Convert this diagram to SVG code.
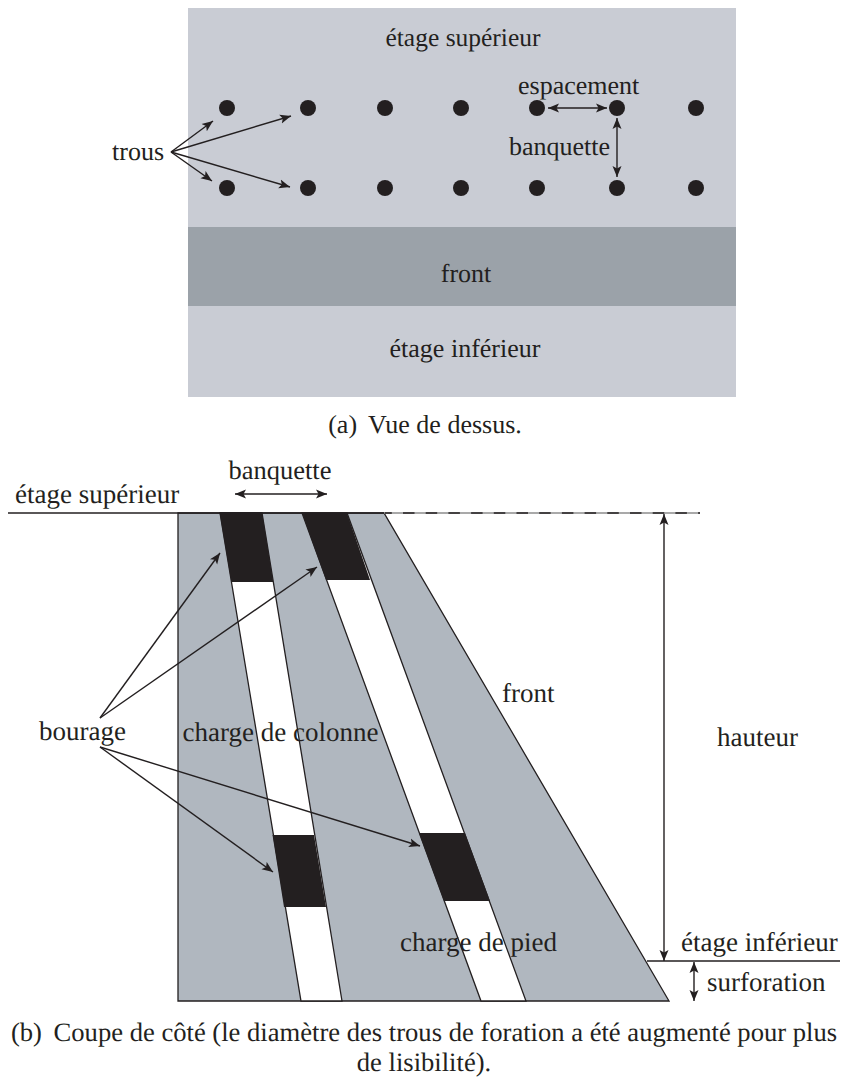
<svg xmlns="http://www.w3.org/2000/svg" width="841" height="1077" viewBox="0 0 841 1077">
<style>
text{font-family:"Liberation Serif","Times New Roman",serif;font-size:27px;fill:#231f20;text-rendering:geometricPrecision}
.t{font-size:26px}
.s{font-size:25.500px}
.c{font-size:26.600px}
.m{text-anchor:middle}
.dot{fill:#231f20}
.hole{fill:#fff;stroke:#231f20;stroke-width:1.3}
.stem{fill:#231f20}
.ln{stroke:#231f20;stroke-width:1.4;fill:none}
.a{marker-end:url(#ah)}
.b{marker-start:url(#as);marker-end:url(#ah)}
</style>
<defs>
<marker id="ah" markerUnits="userSpaceOnUse" markerWidth="14" markerHeight="12" refX="11" refY="5" orient="auto"><path d="M0 0.500L11 5L0 9.500L2.500 5Z" fill="#231f20"/></marker>
<marker id="as" markerUnits="userSpaceOnUse" markerWidth="14" markerHeight="12" refX="0" refY="5" orient="auto"><path d="M11 0.500L0 5L11 9.500L8.500 5Z" fill="#231f20"/></marker>
</defs>
<rect width="841" height="1077" fill="#fff"/>
<g id="top-view">
<rect x="188" y="8" width="548" height="389" fill="#c9ccd4"/>
<rect x="188" y="227" width="548" height="79" fill="#9ba2a9"/>
<text class="s m" x="463" y="46">étage supérieur</text>
<text class="t m" x="466" y="282">front</text>
<text class="t m" x="465" y="357">étage inférieur</text>
<text class="t m" x="425" y="433">(a)<tspan dx="5"> Vue de dessus.</tspan></text>
<text class="t" x="112" y="160">trous</text>
<text class="t" x="518" y="94">espacement</text>
<text class="t" x="509" y="155">banquette</text>
</g>
<g id="holes-top">
<circle class="dot" cx="227" cy="108" r="8"/><circle class="dot" cx="308" cy="108" r="8"/><circle class="dot" cx="385" cy="108" r="8"/><circle class="dot" cx="461" cy="108" r="8"/><circle class="dot" cx="537" cy="108" r="8"/><circle class="dot" cx="617" cy="108" r="8"/><circle class="dot" cx="696" cy="108" r="8"/>
<circle class="dot" cx="227" cy="188" r="8"/><circle class="dot" cx="308" cy="188" r="8"/><circle class="dot" cx="385" cy="188" r="8"/><circle class="dot" cx="461" cy="188" r="8"/><circle class="dot" cx="537" cy="188" r="8"/><circle class="dot" cx="617" cy="188" r="8"/><circle class="dot" cx="696" cy="188" r="8"/>
</g>
<g id="side-view">
<path d="M178 513H384L669 1001H178Z" fill="#b0b7bf" stroke="#231f20" stroke-width="1.3"/>
<path class="hole" d="M220 513H262L342 1001H301Z"/>
<path class="hole" d="M302 513H347L526 1001H481Z"/>
<path class="stem" d="M219.500 512H262L273.300 582H231.300Z"/>
<path class="stem" d="M302 513H347L370 580H326Z"/>
<path class="stem" d="M272.500 835H314L326 907H284Z"/>
<path class="stem" d="M419 833H465L490 901H444Z"/>
<text x="15" y="503">étage supérieur</text>
<text class="m" x="280" y="479" style="font-size:26.500px">banquette</text>
<text x="39" y="740">bourage</text>
<text x="182.500" y="741">charge de colonne</text>
<text x="502" y="702">front</text>
<text x="717" y="746">hauteur</text>
<text x="400" y="951">charge de pied</text>
<text x="681" y="951">étage inférieur</text>
<text x="707" y="991">surforation</text>
<text class="c m" x="424" y="1041">(b)<tspan dx="5"> Coupe de côté (le diamètre des trous de foration a été augmenté pour plus</tspan></text>
<text class="c m" x="424" y="1070.500">de lisibilité).</text>
</g>
<g id="connectors">
<path class="ln a" d="M171 152L213 121"/>
<path class="ln a" d="M171 152L291 116"/>
<path class="ln a" d="M171 152L212 181"/>
<path class="ln a" d="M171 152L290 187"/>
<path class="ln b" d="M548 108H607"/>
<path class="ln b" d="M617 118V177"/>
<path class="ln b" d="M235 494H327"/>
<path class="ln a" d="M100 718L220 553"/>
<path class="ln a" d="M100 718L317 567"/>
<path class="ln a" d="M100 747L273 872"/>
<path class="ln a" d="M100 747L420 846"/>
<path class="ln" d="M8 513H384"/>
<path d="M384 513H700" stroke="#8d8d8d" stroke-width="1.4"/>
<path class="ln" stroke-dasharray="11.500 11.200" stroke-dashoffset="4.700" d="M385 513H700"/>
<path class="ln b" d="M664 514V961"/>
<path class="ln" d="M647 961H840"/>
<path class="ln b" d="M694 962V1001"/>
</g>
</svg>
